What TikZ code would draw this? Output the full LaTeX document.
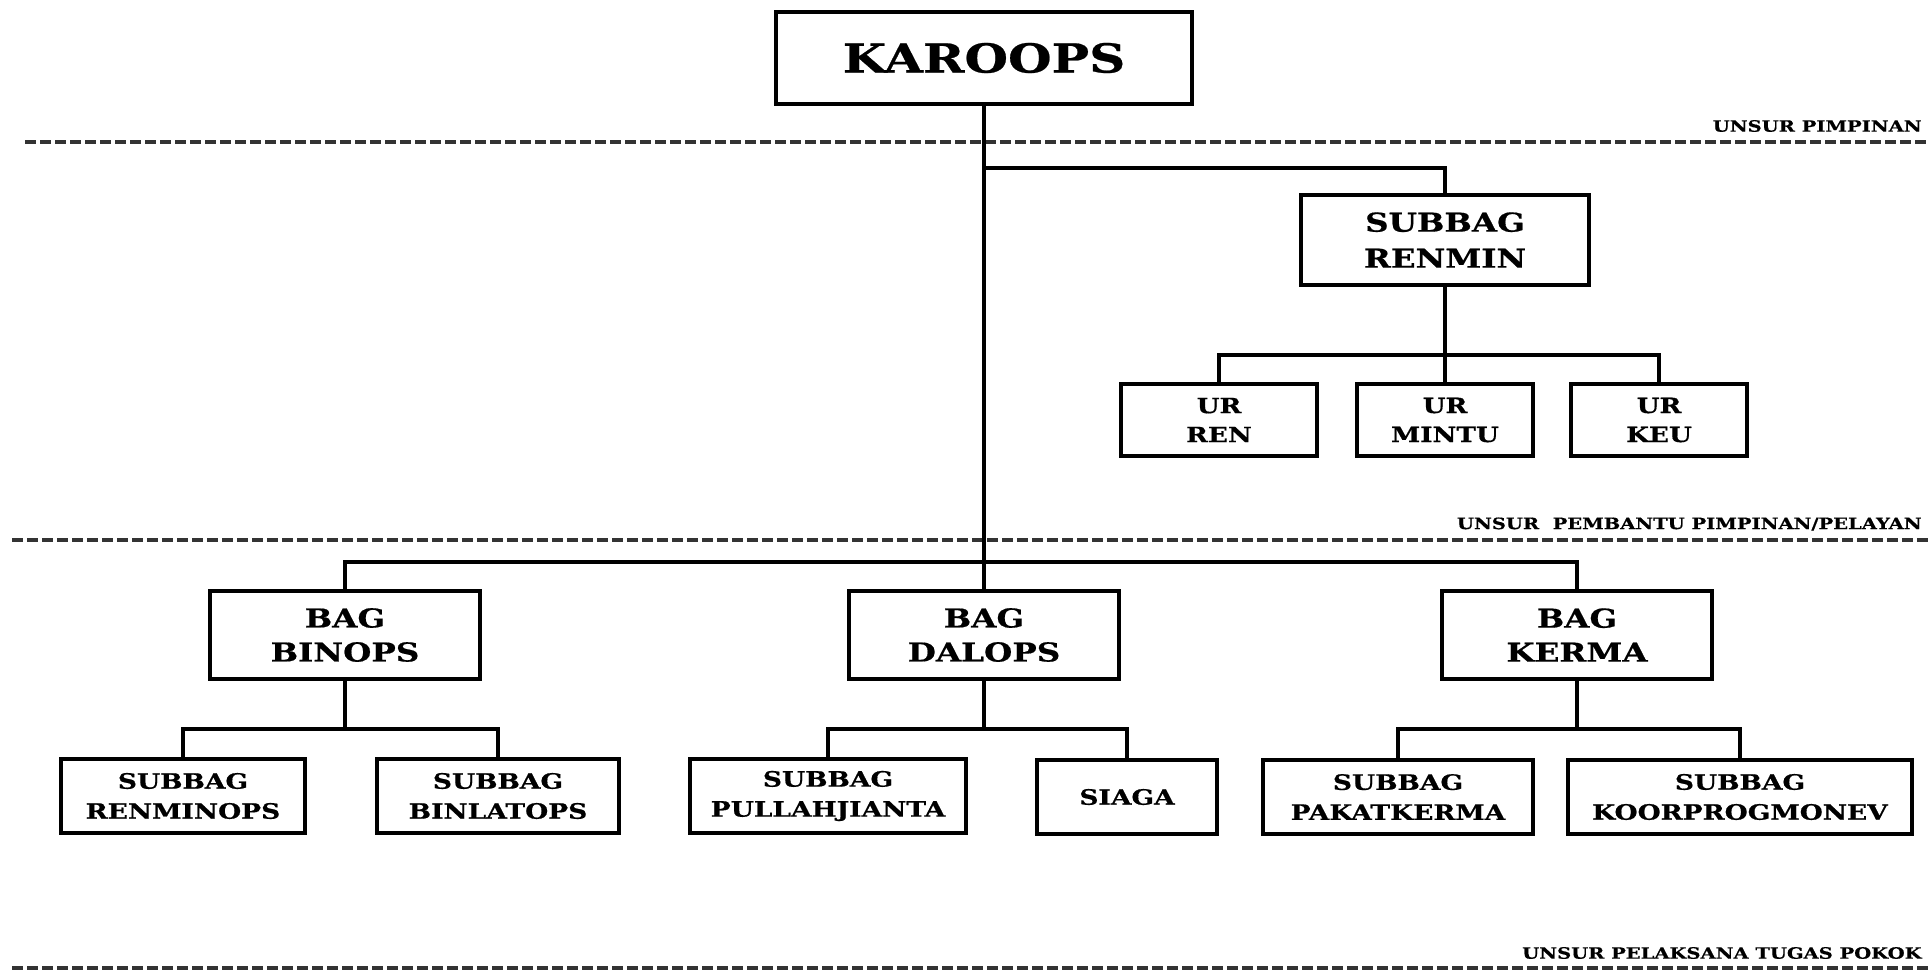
\documentclass[tikz,border=0pt]{standalone}
\usepackage{fontspec}
\newfontfamily\orgfont[FakeStretch=1.25, BoldFeatures={FakeBold=0.6}]{DejaVu Serif}
\usetikzlibrary{positioning}

\begin{document}
\begin{tikzpicture} [
        x=0.5pt, y=-0.5pt,
        box/.style={draw, line width=2.3pt, fill=white, align=center, inner sep=0pt},
        chief/.style={box, minimum width=208pt, minimum height=46pt, font=\orgfont\bfseries\fontsize{20}{23}\selectfont},
        subbag/.style={box, minimum width=144pt, minimum height=45pt, font=\orgfont\bfseries\fontsize{13}{18}\selectfont},
        ur/.style={box, minimum height=36pt, font=\orgfont\bfseries\fontsize{10.5}{14.5}\selectfont},
        bag/.style={box, minimum width=135pt, minimum height=44pt, font=\orgfont\bfseries\fontsize{13}{17}\selectfont},
        leaf/.style={box, minimum height=37pt, font=\orgfont\bfseries\fontsize{10.6}{15}\selectfont},
        link/.style={line width=2pt},
        divider/.style={line width=1.6pt, dash pattern=on 5.5pt off 2pt, black!80},
        unsur/.style={anchor=east, inner sep=0pt, font=\orgfont\bfseries\fontsize{7.8}{10}\selectfont} ]
    \useasboundingbox (0,0) rectangle (1928,970);

    % dividers
    \draw[divider] (25,142) -- (1928,142);
    \draw[divider] (12,540) -- (1928,540);
    \draw[divider] (12,968) -- (1928,968);
    \node[unsur] (lbl1) at (1922,126) {UNSUR PIMPINAN};
    \node[unsur] (lbl2) at (1922,524) {UNSUR\ \ PEMBANTU PIMPINAN/PELAYAN};
    \node[unsur] (lbl3) at (1922,953) {UNSUR PELAKSANA TUGAS POKOK};

    % pimpinan
    \node[chief] (karoops) at (984,58) {KAROOPS};
    \node[subbag] (renmin) at (1445,240) {SUBBAG\\RENMIN};
    \node[ur, minimum width=98pt] (ren) at (1219,420) {UR\\REN};
    \node[ur, minimum width=88pt] (mintu) at (1445,420) {UR\\MINTU};
    \node[ur, minimum width=88pt] (keu) at (1659,420) {UR\\KEU};

    % bagian
    \node[bag] (binops) at (345,635) {BAG\\BINOPS};
    \node[bag] (dalops) at (984,635) {BAG\\DALOPS};
    \node[bag] (kerma) at (1577,635) {BAG\\KERMA};

    \node[leaf, minimum width=122pt] (renminops) at (183,796) {SUBBAG\\RENMINOPS};
    \node[leaf, minimum width=121pt] (binlatops) at (498,796) {SUBBAG\\BINLATOPS};
    \node[leaf, minimum width=138pt] (pullahjianta) at (828,796) {SUBBAG\\PULLAHJIANTA};
    \node[leaf, minimum width=90pt] (siaga) at (1127,797) {SIAGA};
    \node[leaf, minimum width=135pt] (pakatkerma) at (1398,797) {SUBBAG\\PAKATKERMA};
    \node[leaf, minimum width=172pt] (koorprogmonev) at (1740,797) {SUBBAG\\KOORPROGMONEV};

    % joints
    \coordinate (rmjoin) at (984,168);
    \coordinate (urjoin) at (1445,355);
    \coordinate (bagjoin) at (984,562);
    \coordinate (binjoin) at (345,729);
    \coordinate (daljoin) at (984,729);
    \coordinate (kerjoin) at (1577,729);

    % connectors
    \draw[link] (karoops.south) -- (dalops.north);
    \draw[link] (rmjoin) -| (renmin.north);
    \draw[link] (renmin.south) -- (mintu.north);
    \draw[link] (ren.north) |- (urjoin) -| (keu.north);
    \draw[link] (binops.north) |- (bagjoin) -| (kerma.north);
    \draw[link] (binops.south) -- (binjoin);
    \draw[link] (renminops.north) |- (binjoin) -| (binlatops.north);
    \draw[link] (dalops.south) -- (daljoin);
    \draw[link] (pullahjianta.north) |- (daljoin) -| (siaga.north);
    \draw[link] (kerma.south) -- (kerjoin);
    \draw[link] (pakatkerma.north) |- (kerjoin) -| (koorprogmonev.north);
\end{tikzpicture}
\end{document}
